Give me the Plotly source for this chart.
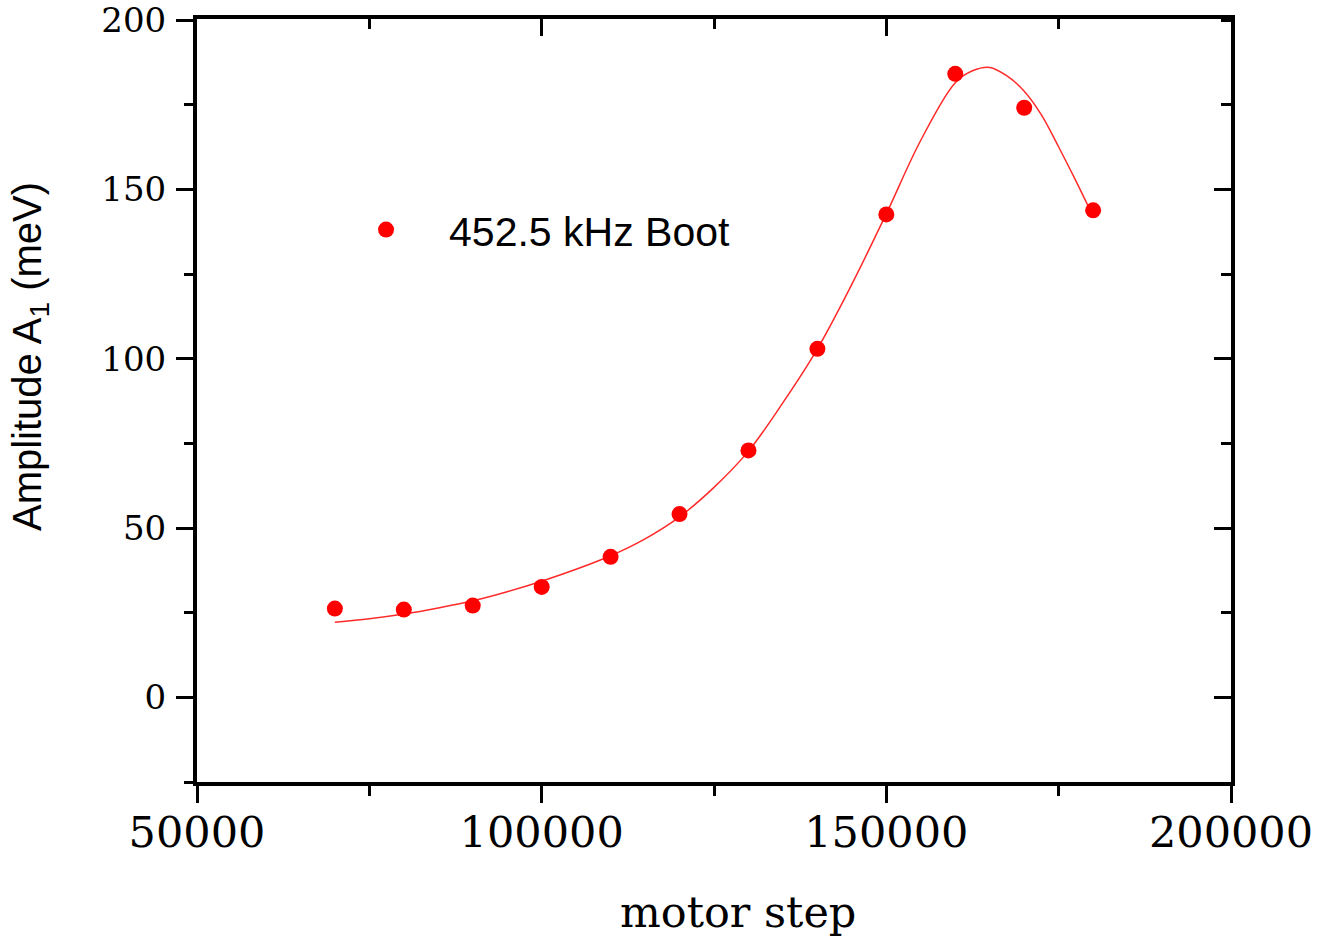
import plotly.graph_objects as go

# measured data
motor_step = [70000, 80000, 90000, 100000, 110000, 120000, 130000, 140000, 150000, 160000, 170000, 180000]
amplitude = [26.2, 25.9, 27.1, 32.6, 41.5, 54.1, 72.9, 102.9, 142.6, 184.1, 174.1, 143.8]

# fitted curve
fit_x = [70000, 75000, 80000, 85000, 90000, 95000, 100000, 105000, 110000, 115000, 120000,
         125000, 130000, 135000, 140000, 145000, 150000, 155000, 160000, 162500, 165000,
         167500, 170000, 172500, 175000, 177500, 180000]
fit_y = [22.2, 23.2, 24.6, 26.4, 28.5, 31.2, 34.3, 37.8, 41.8, 46.8, 53.3,
         62.0, 72.7, 87.0, 102.9, 122.0, 142.8, 164.5, 181.5, 185.0, 186.0,
         183.5, 179.0, 172.0, 162.5, 152.5, 142.0]

x_ticks = [50000, 100000, 150000, 200000]
y_ticks = [0, 50, 100, 150, 200]
legend_label = "452.5 kHz Boot"

fig = go.Figure()
fig.add_trace(go.Scatter(x=fit_x, y=fit_y, mode="lines", line=dict(color="#ff2a2a", width=1.5, shape="spline"),
                         showlegend=False, hoverinfo="skip"))
fig.add_trace(go.Scatter(x=motor_step, y=amplitude, mode="markers", name=legend_label,
                         marker=dict(color="#ff0000", size=16)))
# invisible trace so the mirrored (top/right) inward-tick axes are drawn
fig.add_trace(go.Scatter(x=motor_step, y=amplitude, xaxis="x2", yaxis="y2", mode="markers",
                         marker=dict(opacity=0), showlegend=False, hoverinfo="skip"))

serif = "DejaVu Serif"
x_range = [50000, 200000]
y_range = [-25, 200.3]
fig.update_layout(
    width=1326, height=938,
    margin=dict(l=197, r=95, t=19, b=156, autoexpand=False),
    paper_bgcolor="white", plot_bgcolor="white",
    showlegend=True,
    legend=dict(x=0.1219, y=0.7235, xanchor="left", yanchor="middle", bgcolor="rgba(0,0,0,0)",
                font=dict(family="Liberation Sans", size=41, color="black"), itemwidth=116),
    xaxis=dict(range=x_range, tickvals=x_ticks, ticktext=[str(v) for v in x_ticks], automargin=False,
               showgrid=False, zeroline=False, showline=True, linecolor="black", linewidth=4, mirror=True,
               ticks="outside", ticklen=17, tickwidth=3, tickcolor="black",
               minor=dict(dtick=25000, tick0=50000, ticks="outside", ticklen=10, tickwidth=3, tickcolor="black"),
               tickfont=dict(family=serif, size=43, color="black"), ticklabelstandoff=-8,
               ticklabeloverflow="allow"),
    yaxis=dict(range=y_range, tickvals=y_ticks, ticktext=[str(v) for v in y_ticks], automargin=False,
               showgrid=False, zeroline=False, showline=True, linecolor="black", linewidth=4, mirror=True,
               ticks="outside", ticklen=17, tickwidth=3, tickcolor="black",
               minor=dict(dtick=25, tick0=0, ticks="outside", ticklen=9, tickwidth=3, tickcolor="black"),
               tickfont=dict(family=serif, size=34, color="black"), ticklabelstandoff=3,
               ticklabeloverflow="allow"),
    xaxis2=dict(range=x_range, overlaying="x", side="top", tickvals=x_ticks[1:-1], showticklabels=False,
                showgrid=False, zeroline=False, showline=False, automargin=False,
                ticks="inside", ticklen=17, tickwidth=3, tickcolor="black",
                minor=dict(dtick=25000, tick0=50000, ticks="inside", ticklen=10, tickwidth=3, tickcolor="black")),
    yaxis2=dict(range=y_range, overlaying="y", side="right", tickvals=y_ticks[:-1], showticklabels=False,
                showgrid=False, zeroline=False, showline=False, automargin=False,
                ticks="inside", ticklen=17, tickwidth=3, tickcolor="black",
                minor=dict(dtick=25, tick0=0, ticks="inside", ticklen=10, tickwidth=3, tickcolor="black")),
)

fig.add_annotation(text="Amplitude A<sub>1</sub> (meV)", xref="paper", yref="paper", x=-0.1615, y=0.557,
                   textangle=-90, showarrow=False, xanchor="center", yanchor="middle",
                   font=dict(family="Liberation Sans", size=40, color="black"))
fig.add_annotation(text="motor step", xref="paper", yref="paper", x=0.523, y=-0.170,
                   showarrow=False, xanchor="center", yanchor="middle",
                   font=dict(family=serif, size=43, color="black"))

fig.write_html("out.html")
